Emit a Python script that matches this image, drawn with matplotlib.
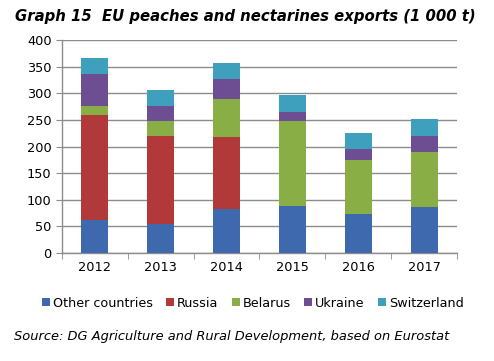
import matplotlib
matplotlib.use("Agg")
import matplotlib.pyplot as plt
import numpy as np

years = ["2012", "2013", "2014", "2015", "2016", "2017"]
other = [62, 54, 82, 89, 74, 87]
russia = [197, 165, 136, 0, 0, 0]
belarus = [18, 29, 72, 159, 100, 102]
ukraine = [59, 28, 37, 16, 22, 30]
switzerland = [30, 31, 30, 33, 30, 32]

series = [
    ("Other countries", other, "#3F69AE"),
    ("Russia", russia, "#B1393A"),
    ("Belarus", belarus, "#8AAE46"),
    ("Ukraine", ukraine, "#6D4E93"),
    ("Switzerland", switzerland, "#3FA0BE"),
]

plt.rcParams["font.family"] = "DejaVu Sans"

fig = plt.figure(figsize=(4.94, 3.61), dpi=100)
ax = fig.add_axes([0.1255, 0.299, 0.7995, 0.59])

x = np.arange(len(years))
bottom = np.zeros(len(years))
handles = []
for name, vals, col in series:
    b = ax.bar(x, vals, width=0.41, bottom=bottom, color=col, label=name, zorder=3)
    bottom += np.array(vals)
    handles.append(b)

ax.set_ylim(0, 400)
ax.set_xlim(-0.5, len(years) - 0.5)
ax.set_yticks(range(0, 401, 50))
ax.yaxis.grid(True, color="#8c8c8c", linewidth=1.0, zorder=0)
ax.set_axisbelow(True)

ax.set_xticks(x)
ax.set_xticklabels(years)
ax.set_xticks(np.arange(-0.5, len(years)), minor=True)
ax.tick_params(axis="x", which="major", length=0, pad=6, labelsize=9.3)
ax.tick_params(axis="x", which="minor", length=4, color="#8c8c8c")
ax.tick_params(axis="y", length=4, color="#8c8c8c", labelsize=9.3)

for s in ["top", "right"]:
    ax.spines[s].set_visible(False)
for s in ["left", "bottom"]:
    ax.spines[s].set_color("#8c8c8c")
    ax.spines[s].set_linewidth(1.0)

fig.text(0.03, 0.955, "Graph 15  EU peaches and nectarines exports (1 000 t)",
         fontsize=10.7, fontweight="heavy", fontstyle="italic", va="center")

fig.legend(handles=handles, loc="center", bbox_to_anchor=(0.512, 0.16), ncol=5,
           frameon=False, fontsize=9.2, handlelength=0.6, handleheight=0.6,
           handletextpad=0.25, columnspacing=1.05)

fig.text(0.028, 0.069, "Source: DG Agriculture and Rural Development, based on Eurostat",
         fontsize=9.4, fontstyle="italic", va="center")

fig.savefig("out.png", dpi=100)
